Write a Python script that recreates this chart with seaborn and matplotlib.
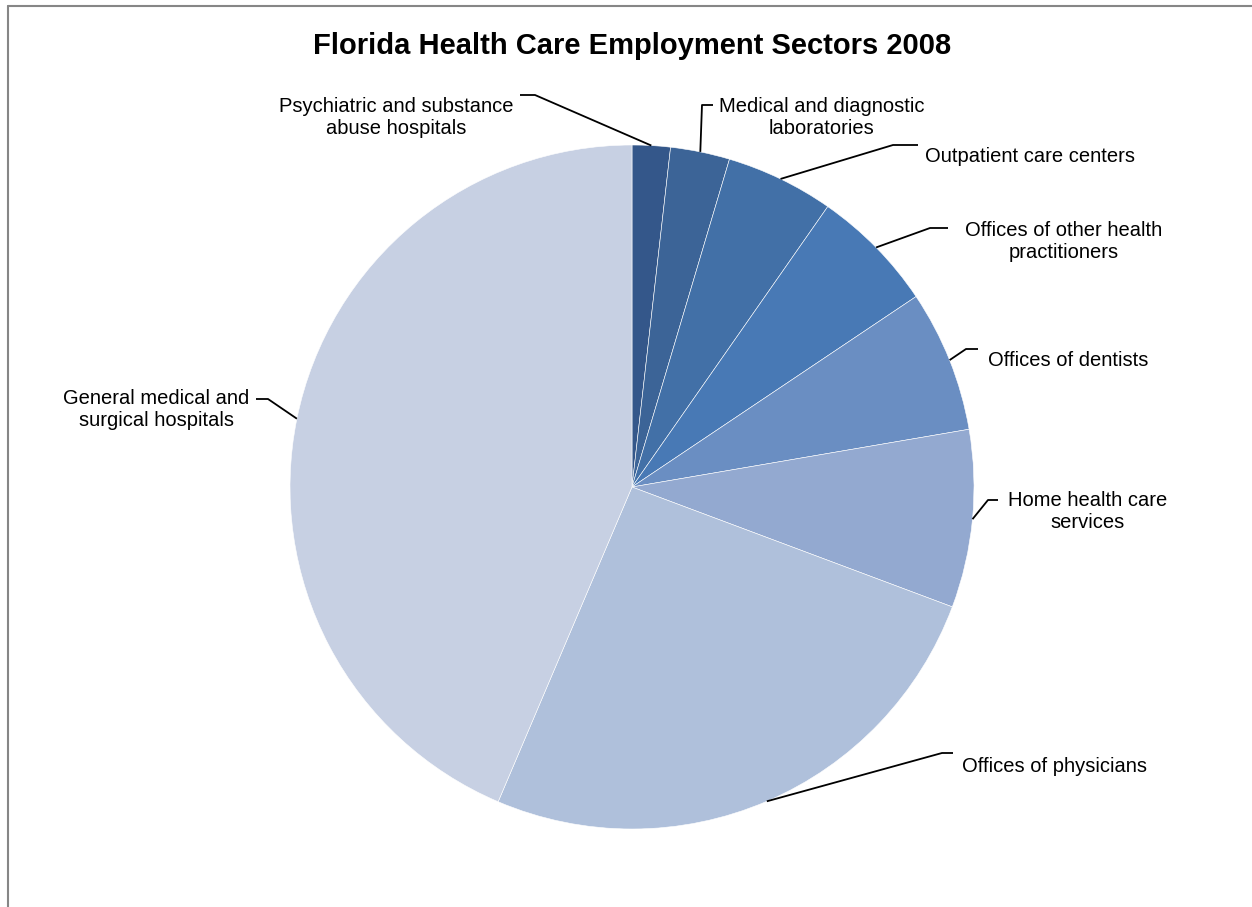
import numpy as np
import matplotlib
matplotlib.use("Agg")
import matplotlib.pyplot as plt
from matplotlib.lines import Line2D
import seaborn as sns

sns.set_theme(style="white")
plt.rcParams['font.family'] = ['Liberation Sans', 'DejaVu Sans']

categories = [
    "Psychiatric and substance\nabuse hospitals",
    "Medical and diagnostic\nlaboratories",
    "Outpatient care centers",
    "Offices of other health\npractitioners",
    "Offices of dentists",
    "Home health care\nservices",
    "Offices of physicians",
    "General medical and\nsurgical hospitals",
]
values = [1.8, 2.8, 5.1, 5.9, 6.7, 8.4, 25.7, 43.6]
colors = ["#34578A", "#3C6497", "#4270A7", "#4879B5",
          "#6A8EC2", "#93A9D0", "#AFC0DB", "#C7D0E3"]

W, H = 1252, 907
fig = plt.figure(figsize=(W / 100, H / 100), dpi=100)
cx, cy, r = 632, 487, 342
ax = fig.add_axes([(cx - r) / W, 1 - (cy + r) / H, 2 * r / W, 2 * r / H])

wedges, _ = ax.pie(values, colors=colors, startangle=90, counterclock=False,
                   wedgeprops=dict(edgecolor="white", linewidth=0.4))
ax.set_xlim(-1, 1)
ax.set_ylim(-1, 1)
ax.set_aspect("equal")
ax.axis("off")

def px(x, y):
    return ((x - cx) / r, (cy - y) / r)

# label layout: (text pos, ha, elbow-end point, elbow point)
layout = [
    ((396, 118), "center", (520, 95), (535, 95)),
    ((822, 118), "center", (713, 105), (702, 105)),
    ((925, 157), "left", (918, 145), (893, 145)),
    ((1064, 241), "center", (948, 228), (930, 228)),
    ((988, 360), "left", (978, 349), (966, 349)),
    ((1088, 512), "center", (998, 500), (988, 500)),
    ((962, 767), "left", (953, 753), (942, 753)),
    ((156, 410), "center", (256, 399), (268, 399)),
]

for w, lab, (tpos, ha, p1, p2) in zip(wedges, categories, layout):
    theta = np.deg2rad((w.theta1 + w.theta2) / 2)
    sx, sy = np.cos(theta), np.sin(theta)
    a = px(*p1)
    b = px(*p2)
    ax.plot([a[0], b[0], sx], [a[1], b[1], sy], color="black", lw=1.3,
            clip_on=False, solid_capstyle="butt")
    tx, ty = px(*tpos)
    ax.text(tx, ty, lab, ha=ha, va="center", fontsize=14.5, color="black",
            linespacing=1.2, clip_on=False)

fig.text(632 / W, 1 - 46 / H, "Florida Health Care Employment Sectors 2008",
         ha="center", va="center", fontsize=21, fontweight="bold", color="black")

fig.add_artist(Line2D([8 / W, 8 / W], [0, 1 - 6 / H], transform=fig.transFigure,
                      color="#868686", lw=1.5))
fig.add_artist(Line2D([8 / W, 1], [1 - 6 / H, 1 - 6 / H], transform=fig.transFigure,
                      color="#868686", lw=1.5))

fig.savefig("out.png", dpi=100, facecolor="white")
